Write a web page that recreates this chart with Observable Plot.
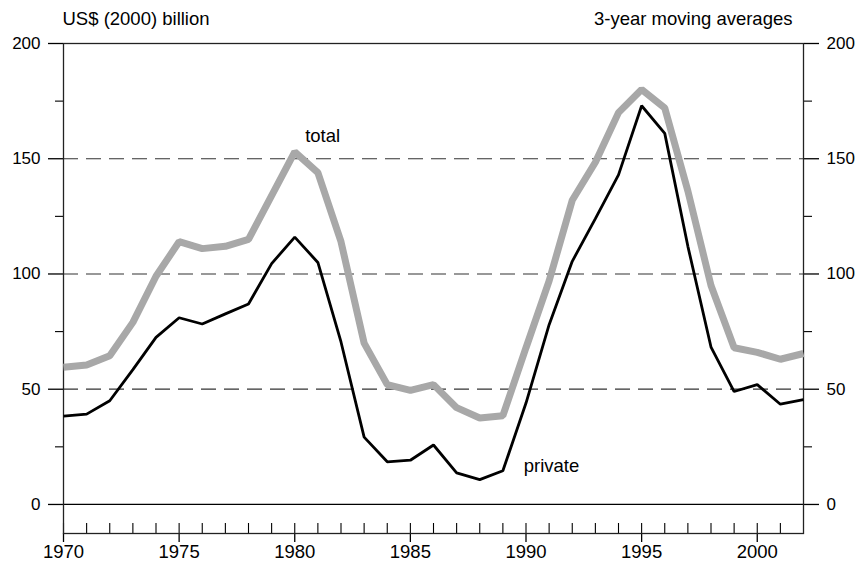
<!DOCTYPE html>
<html>
<head>
<meta charset="utf-8">
<script src="https://cdn.jsdelivr.net/npm/d3@7"></script>
<script src="https://cdn.jsdelivr.net/npm/@observablehq/plot@0.6"></script>
<style>
  html, body { margin: 0; padding: 0; background: #fff; }
</style>
</head>
<body>
<div id="chart"></div>
<script>
// ---- data ----
const years = [1970, 1971, 1972, 1973, 1974, 1975, 1976, 1977, 1978, 1979,
               1980, 1981, 1982, 1983, 1984, 1985, 1986, 1987, 1988, 1989,
               1990, 1991, 1992, 1993, 1994, 1995, 1996, 1997, 1998, 1999,
               2000, 2001, 2002];
const totalValues = [59.5, 60.5, 64.5, 79, 99, 114, 111, 112, 115, 134,
                     153, 144, 114, 70, 52, 49.5, 52, 42, 37.5, 38.5,
                     68, 97, 132, 148.5, 170, 180, 172, 136, 95, 68,
                     66, 63, 65.5];
const privateValues = [38.3, 39.2, 45, 58.5, 72.5, 81, 78.3, 82.7, 87, 104.5,
                       116, 105, 70.5, 29.2, 18.5, 19.2, 25.8, 13.7, 10.8, 14.6,
                       44, 78, 105.5, 124, 143, 173, 161, 112, 68.3, 49,
                       52, 43.5, 45.5];
const yMajorTicks = [0, 50, 100, 150, 200];
const yMinorTicks = [25, 75, 125, 175];
const gridValues = [50, 100, 150];
const xMajorTicks = [1970, 1975, 1980, 1985, 1990, 1995, 2000];
const xMinorTicks = years.slice(0, -1);
const seriesLabels = [
  {year: 1980.45, value: 160, text: "total"},
  {year: 1989.9, value: 16.5, text: "private"}
];
const unitTitle = "US$ (2000) billion";
const noteTitle = "3-year moving averages";

const totalData = years.map((y, i) => ({year: y, value: totalValues[i]}));
const privateData = years.map((y, i) => ({year: y, value: privateValues[i]}));

const font = "'Liberation Sans', Arial, Helvetica, sans-serif";

const chart = Plot.plot({
  width: 859,
  height: 564,
  marginLeft: 63,
  marginRight: 56,
  marginTop: 43,
  marginBottom: 31,
  style: {fontFamily: font, fontSize: "18px", color: "#000", background: "#fff", overflow: "visible"},
  x: {domain: [1970, 2002], label: null},
  y: {domain: [-12.6, 200], label: null},
  marks: [
    Plot.ruleY(gridValues, {stroke: "#333", strokeWidth: 1.2, strokeDasharray: "15,8"}),
    Plot.ruleY([0], {stroke: "#000", strokeWidth: 1.3}),
    // axes
    Plot.axisY({anchor: "left", ticks: yMajorTicks, tickSize: 15, tickPadding: 8, fontSize: 17, label: null, strokeWidth: 1.3}),
    Plot.axisY({anchor: "left", ticks: yMinorTicks, tickSize: 8, tickFormat: () => "", label: null, strokeWidth: 1.1}),
    Plot.axisY({anchor: "right", ticks: yMajorTicks, tickSize: 15, tickPadding: 8, fontSize: 17, label: null, strokeWidth: 1.3}),
    Plot.axisY({anchor: "right", ticks: yMinorTicks, tickSize: 8, tickFormat: () => "", label: null, strokeWidth: 1.1}),
    Plot.axisX({anchor: "bottom", ticks: xMinorTicks, tickSize: 10, dy: -10, tickFormat: () => "", label: null, strokeWidth: 1.1}),
    Plot.axisX({anchor: "bottom", ticks: xMajorTicks, tickSize: 9, tickPadding: 2, fontSize: 18.5, tickFormat: d3.format("d"), label: null, strokeWidth: 1.3}),
    Plot.frame({stroke: "#222", strokeWidth: 1.3}),
    // series
    Plot.line(totalData, {x: "year", y: "value", stroke: "#a8a8a8", strokeWidth: 7, strokeLinejoin: "miter", strokeLinecap: "butt"}),
    Plot.line(privateData, {x: "year", y: "value", stroke: "#000", strokeWidth: 2.8, strokeLinejoin: "miter", strokeLinecap: "butt"}),
    Plot.text(seriesLabels, {x: "year", y: "value", text: "text", textAnchor: "start", lineAnchor: "middle", fontSize: 18.5, fill: "#000"}),
    // titles
    Plot.text([unitTitle], {frameAnchor: "top-left", dx: -1, dy: -24, textAnchor: "start", lineAnchor: "middle", fontSize: 18.5, fill: "#000"}),
    Plot.text([noteTitle], {frameAnchor: "top-right", dx: -11, dy: -24, textAnchor: "end", lineAnchor: "middle", fontSize: 18.5, fill: "#000"})
  ]
});

document.getElementById("chart").appendChild(chart);
</script>
</body>
</html>
